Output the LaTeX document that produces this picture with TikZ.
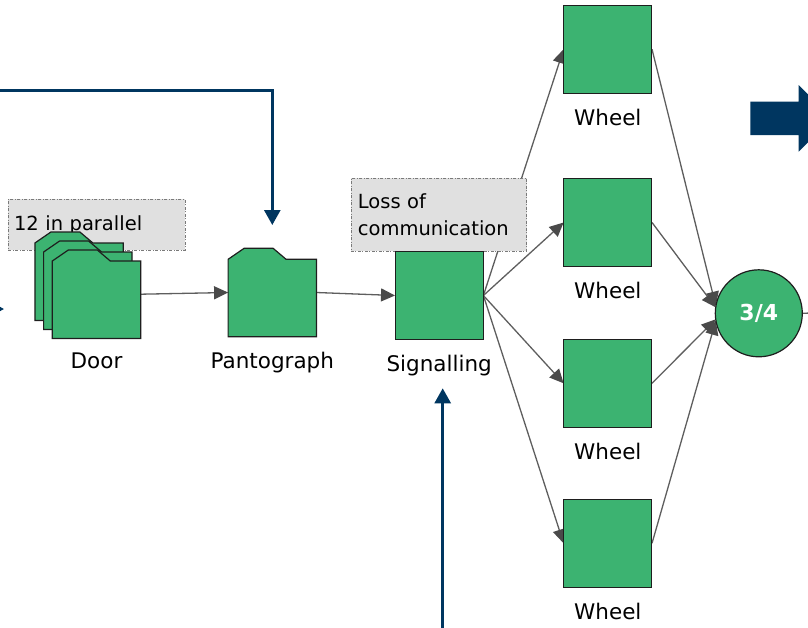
\documentclass[tikz,border=0pt]{standalone}
\usepackage{fontspec}
\setmainfont{DejaVu Sans}
\usetikzlibrary{arrows.meta,calc}
\definecolor{boxgreen}{HTML}{3CB371}
\definecolor{boxline}{HTML}{1E1E1E}
\definecolor{conngray}{HTML}{5E5E5E}
\definecolor{tipgray}{HTML}{4A4A4A}
\definecolor{notefill}{HTML}{E0E0E0}
\definecolor{notegray}{HTML}{7A7A7A}
\definecolor{navy}{HTML}{003660}
\tikzset{
  sq/.style={draw=boxline, fill=boxgreen, line width=1.2pt, minimum width=88pt, minimum height=88pt, inner sep=0pt},
  frame/.style={minimum width=88pt, minimum height=88pt, inner sep=0pt},
  folderstyle/.style={draw=boxline, fill=boxgreen, line width=1.2pt, line join=miter},
  lbl/.style={font=\fontsize{21.5}{25}\selectfont, anchor=base, inner sep=0pt},
  note/.style={draw=notegray, fill=notefill, line width=0.9pt, dash pattern=on 3pt off 1.5pt on 1pt off 1.5pt, align=left, font=\fontsize{19.5}{27.4}\selectfont, inner ysep=0pt},
  conn/.style={draw=conngray, line width=1.3pt, -{Triangle[length=14pt,width=13pt,color=tipgray]}},
  navyarrow/.style={draw=navy, line width=2.7pt, -{Triangle[length=15pt,width=16pt]}},
}
\newcommand\drawfolder[1]{%
  \draw[folderstyle] ($(#1.north west)+(0,11)$) -- ($(#1.north west)+(16,0)$) -- ($(#1.north west)+(45,0)$) -- ($(#1.north west)+(58,11)$) -- ($(#1.north east)+(0,11)$) -- (#1.south east) -- (#1.south west) -- cycle;}
\begin{document}
\begin{tikzpicture}[x=1pt,y=-1pt]
\useasboundingbox (0,0) rectangle (808,627);
\clip (0,0) rectangle (808,627);

% node frames (positions)
\node[frame] (doorA) at (79.1,276.2) {};
\node[frame] (doorB) at (87.8,285.2) {};
\node[frame] (door)  at (96.5,294.2) {};
\node[frame] (panto) at (272.3,292.5) {};
\node[frame] (sig)   at (439.2,295.5) {};
\node[frame] (w1)    at (607.8,49.2) {};
\node[frame] (w2)    at (607.8,222.5) {};
\node[frame] (w3)    at (607.8,383.3) {};
\node[frame] (w4)    at (607.8,543.3) {};
\node[circle, minimum size=87pt, inner sep=0pt] (circ) at (758.8,313.3) {};

% connectors
\draw[conn] (door.east) -- (panto.west);
\draw[conn] (panto.east) -- (sig.west);
\draw[conn] (sig.east) -- (w1.west);
\draw[conn] (sig.east) -- (w2.west);
\draw[conn] (sig.east) -- (w3.west);
\draw[conn] (sig.east) -- (w4.west);
\draw[conn] (w1.east) -- (circ.170);
\draw[conn] (w2.east) -- (circ.172);
\draw[conn] (w3.east) -- (circ.188);
\draw[conn] (w4.east) -- (circ.190);
\coordinate (circout) at (830,312.3);
\draw[draw=conngray, line width=1.3pt] (circ.east) -- (circout);

% notes
\node[note, text width=165.3pt, inner xsep=5.7pt, minimum height=50.7pt] (par) at (96.7,224.7) {12 in parallel};
\node[note, text width=161.7pt, inner xsep=7pt, minimum height=72.7pt] (loss) at (438.8,214.7) {Loss of\\communication};

% shapes
\drawfolder{doorA}
\drawfolder{doorB}
\drawfolder{door}
\drawfolder{panto}
\node[sq] at (sig) {};
\node[sq] at (w1) {};
\node[sq] at (w2) {};
\node[sq] at (w3) {};
\node[sq] at (w4) {};
\node[circle, draw=boxline, fill=boxgreen, line width=1.2pt, minimum size=87pt, inner sep=0pt, text=white, font=\bfseries\fontsize{22}{26}\selectfont] (circt) at (circ) {3/4};

% labels
\node[lbl] (doorL)  at ([yshift=-30pt]door.south) {Door};
\node[lbl] (pantoL) at ([yshift=-32pt]panto.south) {Pantograph};
\node[lbl] (sigL)   at ([yshift=-32pt]sig.south) {Signalling};
\node[lbl] (w1L)    at ([yshift=-32pt]w1.south) {Wheel};
\node[lbl] (w2L)    at ([yshift=-32pt]w2.south) {Wheel};
\node[lbl] (w3L)    at ([yshift=-32pt]w3.south) {Wheel};
\node[lbl] (w4L)    at ([yshift=-32pt]w4.south) {Wheel};

% navy arrows
\coordinate (b1s) at (-10,90.7);
\coordinate (b1e) at (272.3,225);
\draw[navyarrow] (b1s) -| (b1e);
\coordinate (b2s) at (442.7,640);
\coordinate (b2e) at (442.7,388.3);
\draw[navyarrow] (b2s) -- (b2e);
\coordinate (b3s) at (-40,309);
\coordinate (b3e) at (4,309);
\draw[navyarrow] (b3s) -- (b3e);
\fill[navy] (750.3,101.7) -- (798.7,101.7) -- (798.7,85) -- (832,118.3) -- (798.7,151.7) -- (798.7,135) -- (750.3,135) -- cycle;
\end{tikzpicture}
\end{document}
